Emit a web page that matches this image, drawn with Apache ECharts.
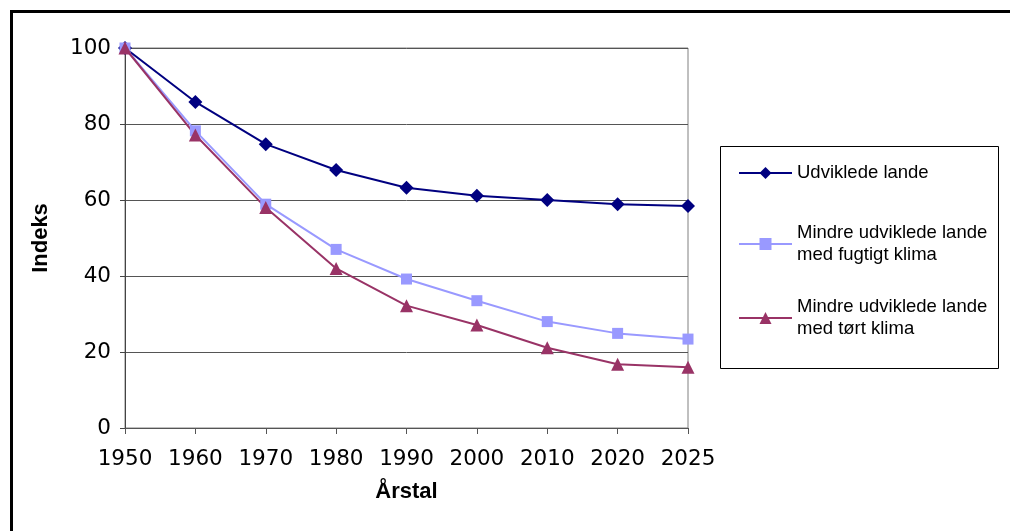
<!DOCTYPE html>
<html>
<head>
<meta charset="utf-8">
<script src="https://cdn.jsdelivr.net/npm/echarts@6/dist/echarts.min.js"></script>
<style>
  html, body { margin: 0; padding: 0; background: #fff; }
  #chart { width: 1010px; height: 531px; }
</style>
</head>
<body>
<div id="chart"></div>
<script>
const years = ['1950', '1960', '1970', '1980', '1990', '2000', '2010', '2020', '2025'];
const udviklede = [100, 85.8, 74.7, 67.9, 63.2, 61.1, 60.0, 58.9, 58.4];
const fugtigt = [100, 78.2, 58.9, 47.0, 39.2, 33.5, 28.0, 24.9, 23.4];
const toert = [100, 77.1, 58.0, 42.0, 32.2, 27.1, 21.1, 16.8, 16.0];
const seriesNames = ['Udviklede lande', 'Mindre udviklede lande\nmed fugtigt klima', 'Mindre udviklede lande\nmed tørt klima'];
const yTicks = { min: 0, max: 100, interval: 20 };

const chart = echarts.init(document.getElementById('chart'), null, { renderer: 'canvas' });
const legendFont = { fontFamily: 'Liberation Sans, Arial, sans-serif', fontSize: 18.5, lineHeight: 22, color: '#000' };

chart.setOption({
  backgroundColor: '#fff',
  animation: false,
  graphic: [
    { type: 'rect', left: 9, top: 9, shape: { x: 0, y: 0, width: 1010, height: 531 },
      style: { fill: 'none', stroke: '#000', lineWidth: 3 }, silent: true },
    { type: 'rect', left: 718, top: 144, shape: { x: 0, y: 0, width: 278, height: 222 },
      style: { fill: 'none', stroke: '#000', lineWidth: 1 }, silent: true }
  ],
  grid: { left: 125, right: 322, top: 48, bottom: 103, show: true, borderColor: '#808080', borderWidth: 1, containLabel: false },
  legend: {
    orient: 'vertical',
    left: 738,
    top: 143,
    padding: 0,
    itemGap: 8,
    itemWidth: 53,
    itemHeight: 15,
    textStyle: legendFont,
    data: [
      { name: seriesNames[0], textStyle: Object.assign({}, legendFont, { padding: [19, 0, 19, 0] }) },
      { name: seriesNames[1], textStyle: Object.assign({}, legendFont, { padding: [22, 0, 0, 0] }) },
      { name: seriesNames[2], textStyle: Object.assign({}, legendFont, { padding: [22, 0, 0, 0] }) }
    ]
  },
  xAxis: {
    type: 'category',
    data: years,
    boundaryGap: false,
    name: 'Årstal',
    nameLocation: 'middle',
    nameGap: 53,
    nameTextStyle: { fontFamily: 'Liberation Sans, Arial, sans-serif', fontWeight: 'bold', fontSize: 22, color: '#000' },
    axisLine: { show: true, lineStyle: { color: '#555', width: 1 } },
    axisTick: { show: true, length: 6, alignWithLabel: true, lineStyle: { color: '#555' } },
    axisLabel: { margin: 20, fontFamily: 'DejaVu Sans, Verdana, sans-serif', fontSize: 21.5, color: '#000', interval: 0 },
    splitLine: { show: false }
  },
  yAxis: {
    type: 'value',
    min: yTicks.min,
    max: yTicks.max,
    interval: yTicks.interval,
    name: 'Indeks',
    nameLocation: 'middle',
    nameGap: 73,
    nameRotate: 90,
    nameTextStyle: { fontFamily: 'Liberation Sans, Arial, sans-serif', fontWeight: 'bold', fontSize: 22, color: '#000' },
    axisLine: { show: true, lineStyle: { color: '#444', width: 1 } },
    axisTick: { show: true, length: 5, lineStyle: { color: '#444' } },
    axisLabel: { margin: 14, fontFamily: 'DejaVu Sans, Verdana, sans-serif', fontSize: 21.5, color: '#000' },
    splitLine: { show: true, lineStyle: { color: '#555', width: 1 } }
  },
  series: [
    { name: seriesNames[0], type: 'line', data: udviklede, symbol: 'diamond', symbolSize: 14,
      itemStyle: { color: '#000080' }, lineStyle: { color: '#000080', width: 2 } },
    { name: seriesNames[1], type: 'line', data: fugtigt, symbol: 'rect', symbolSize: 11,
      itemStyle: { color: '#9999FF' }, lineStyle: { color: '#9999FF', width: 2 } },
    { name: seriesNames[2], type: 'line', data: toert, symbol: 'triangle', symbolSize: 13,
      itemStyle: { color: '#993366' }, lineStyle: { color: '#993366', width: 2 } }
  ]
});
</script>
</body>
</html>
